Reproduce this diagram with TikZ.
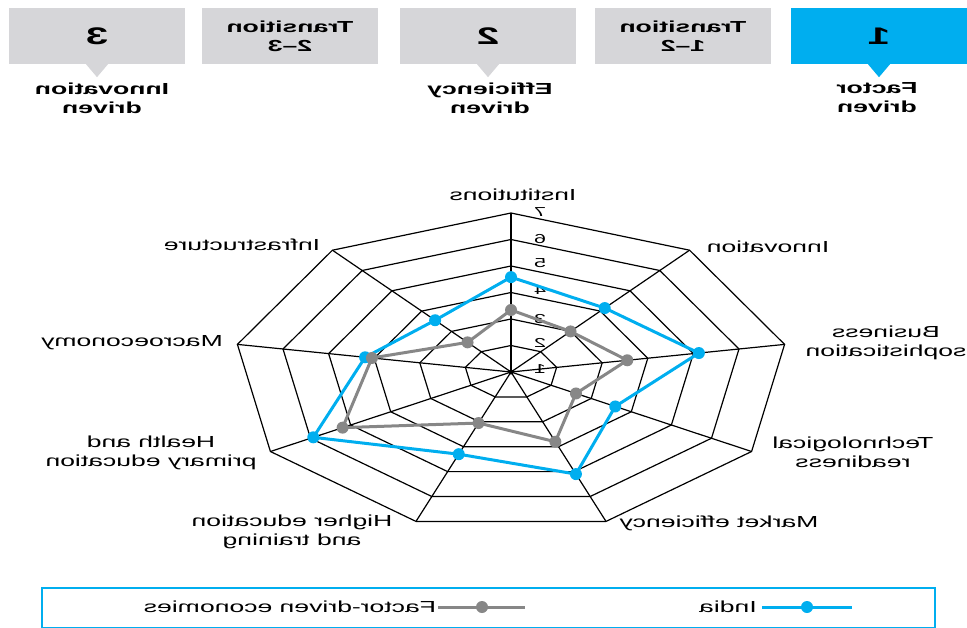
\documentclass[tikz,border=0pt]{standalone}
\usepackage{fontspec}
\setmainfont{Liberation Sans}
\usetikzlibrary{calc}
\definecolor{cy}{RGB}{0,174,239}
\definecolor{dg}{RGB}{135,135,135}
\definecolor{lg}{RGB}{214,214,217}
\begin{document}
\begin{tikzpicture}[x=1pt,y=-1pt,
  mir/.style={xscale=-1.66, inner sep=0pt, align=center, font=\fontsize{16}{19}\selectfont},
  mirb/.style={mir, font=\fontsize{16}{19}\bfseries\selectfont},
  mirn/.style={mir, font=\fontsize{24}{26}\bfseries\selectfont},
  mirs/.style={mir, font=\fontsize{13}{15}\selectfont},
  stagebox/.style={draw=none, minimum width=176pt, minimum height=56pt, inner sep=0pt},
  gridline/.style={black, line width=1.2pt, line join=miter},
  bline/.style={cy, line width=3pt, line join=round},
  gline/.style={dg, line width=3pt, line join=round},
  bdot/.style={circle, fill=cy, inner sep=0pt, minimum size=12pt},
  gdot/.style={circle, fill=dg, inner sep=0pt, minimum size=12pt}]
\useasboundingbox (0,0) rectangle (967,627);

% ---- stage boxes ----
\node[stagebox, fill=lg] (s3) at (97,36) {};
\node[stagebox, fill=lg] (t23) at (290,36) {};
\node[stagebox, fill=lg] (s2) at (488,36) {};
\node[stagebox, fill=lg] (t12) at (683,36) {};
\node[stagebox, fill=cy] (s1) at (879,36) {};
\fill[lg] ($(s3.south)+(-11,0)$) -- ($(s3.south)+(0,13)$) -- ($(s3.south)+(11,0)$) -- cycle;
\fill[lg] ($(s2.south)+(-11,0)$) -- ($(s2.south)+(0,13)$) -- ($(s2.south)+(11,0)$) -- cycle;
\fill[cy] ($(s1.south)+(-11,0)$) -- ($(s1.south)+(0,13)$) -- ($(s1.south)+(11,0)$) -- cycle;
\node[mirn] (s3n) at (s3) {3};
\node[mirb] (t23n) at (t23) {Transition\\2--3};
\node[mirn] (s2n) at (s2) {2};
\node[mirb] (t12n) at (t12) {Transition\\1--2};
\node[mirn] (s1n) at (s1) {1};
\node[mirb] (l3) at (102,98) {Innovation\\driven};
\node[mirb] (l2) at (490,98) {Efficiency\\driven};
\node[mirb] (l1) at (877,98) {Factor\\driven};

% ---- radar grid ----
\coordinate (c) at (511,372);
\foreach \k in {0,...,8}{
  \coordinate (v\k) at ({511+46.3*6*cos(90-40*\k)},{372-26.5*6*sin(90-40*\k)});
}
\foreach \r in {1,...,6}{
  \draw[gridline] ({511},{372-26.5*\r})
    \foreach \k in {1,...,8}{ -- ({511+46.3*\r*cos(90-40*\k)},{372-26.5*\r*sin(90-40*\k)}) } -- cycle;
}
\foreach \k in {0,...,8}{ \draw[gridline] (c) -- (v\k); }
\fill (c) circle (2.5pt);

% axis numbers
\node[mirs] (n7) at (540,212) {7};
\node[mirs] (n6) at (540,239) {6};
\node[mirs] (n5) at (540,263) {5};
\node[mirs] (n4) at (540,290) {4};
\node[mirs] (n3) at (540,319) {3};
\node[mirs] (n2) at (540,343) {2};
\node[mirs] (n1) at (540,369) {1};

% ---- data ----
\foreach \k/\r in {0/3.58,1/3.15,2/4.12,3/2.6,4/4.1,5/3.3,6/4.93,7/3.2,8/2.55}{
  \coordinate (b\k) at ({511+46.3*\r*cos(90-40*\k)},{372-26.5*\r*sin(90-40*\k)});
}
\foreach \k/\r in {0/2.34,1/2.0,2/2.55,3/1.62,4/2.8,5/2.05,6/4.2,7/3.05,8/1.46}{
  \coordinate (g\k) at ({511+46.3*\r*cos(90-40*\k)},{372-26.5*\r*sin(90-40*\k)});
}
\draw[bline] (b0) -- (b1) -- (b2) -- (b3) -- (b4) -- (b5) -- (b6) -- (b7) -- (b8) -- cycle;
\foreach \k in {0,...,8}{ \node[bdot] (bd\k) at (b\k) {}; }
\draw[gline] (g0) -- (g1) -- (g2) -- (g3) -- (g4) -- (g5) -- (g6) -- (g7) -- (g8) -- cycle;
\foreach \k in {0,...,8}{ \node[gdot] (gd\k) at (g\k) {}; }

% ---- axis labels ----
\node[mir] (a0) at (513,195) {Institutions};
\node[mir] (a1) at (768,247) {Innovation};
\node[mir] (a2) at (886,343) {Business\\sophistication};
\node[mir] (a3) at (853,452) {Technological\\readiness};
\node[mir] (a4) at (719,523) {Market efficiency};
\node[mir] (a5) at (292,532) {Higher education\\and training};
\node[mir] (a6) at (151,453) {Health and\\primary education};
\node[mir] (a7) at (132,343) {Macroeconomy};
\node[mir] (a8) at (242,245) {Infrastructure};

% ---- legend ----
\node[draw=cy, line width=1.5pt, minimum width=893pt, minimum height=40pt, inner sep=0pt] (leg) at (488.5,608) {};
\coordinate (lb1) at (762,607);
\coordinate (lb2) at (852,607);
\draw[bline] (lb1) -- (lb2);
\node[bdot] (lbd) at (807,607) {};
\node[mir] (lbt) at (728,607) {India};
\coordinate (lg1) at (438,607);
\coordinate (lg2) at (525,607);
\draw[gline] (lg1) -- (lg2);
\node[gdot] (lgd) at (482,607) {};
\node[mir] (lgt) at (290,607) {Factor-driven economies};
\end{tikzpicture}
\end{document}
